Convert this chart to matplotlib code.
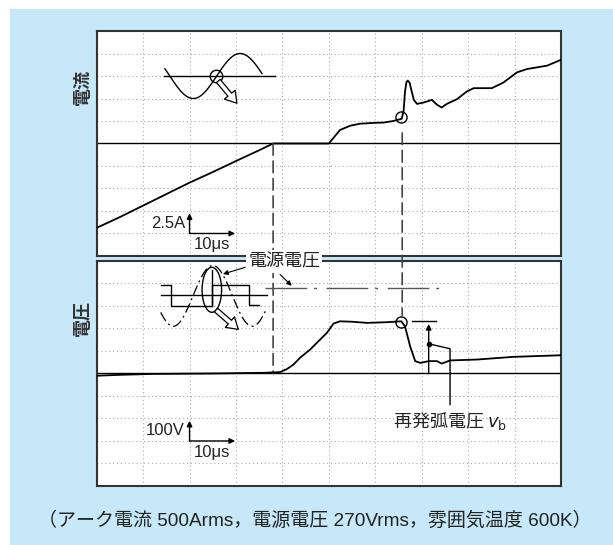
import numpy as np
import matplotlib.pyplot as plt
from matplotlib.patches import Rectangle, Ellipse, ConnectionPatch, FancyArrowPatch

plt.rcParams['font.family'] = ['Liberation Sans', 'Noto Sans CJK JP', 'DejaVu Sans']

# 電流波形 (div)
cur_x = [0, 0.5, 1.0, 1.5, 2.0, 2.5, 3.0, 3.5, 3.8, 5.0, 5.12, 5.24, 5.46, 5.67, 6.0,
         6.18, 6.39, 6.57, 6.61, 6.64, 6.67, 6.7, 6.74, 6.78, 6.83, 6.9, 7.04, 7.22,
         7.33, 7.43, 7.54, 7.76, 7.97, 8.12, 8.51, 8.76, 9.05, 9.27, 9.7, 10]
cur_y = [-3.75, -3.27, -2.76, -2.25, -1.74, -1.27, -0.78, -0.3, 0.0, 0.0, 0.3, 0.6,
         0.79, 0.88, 0.92, 0.93, 1.0, 1.1, 1.45, 2.3, 2.72, 2.8, 2.7, 2.35, 1.94,
         1.76, 1.82, 1.94, 1.72, 1.6, 1.76, 1.97, 2.31, 2.46, 2.46, 2.71, 3.16, 3.31,
         3.46, 3.72]

# 電圧波形 (div)
volt_x = [0, 0.5, 1.2, 2.5, 3.6, 3.95, 4.1, 4.24, 4.38, 4.6, 4.74, 4.96, 5.1, 5.24,
          5.5, 5.82, 6.25, 6.56, 6.64, 6.75, 6.86, 6.97, 7.15, 7.33, 7.43, 7.61,
          8.19, 8.98, 10]
volt_y = [-0.1, -0.06, -0.02, 0.0, 0.03, 0.06, 0.2, 0.4, 0.7, 1.07, 1.36, 1.81, 2.22,
          2.32, 2.3, 2.25, 2.28, 2.32, 2.1, 1.21, 0.55, 0.47, 0.55, 0.55, 0.44, 0.58,
          0.62, 0.74, 0.81]

t_zero = 3.8        # 電流零点
t_restrike = 6.58   # 再発弧点
cur_mark = (6.56, 1.2)
volt_mark = (6.56, 2.3)
vb_level = 2.32
vb_x = 7.15

caption = "（アーク電流 500Arms，電源電圧 270Vrms，雰囲気温度 600K）"

BLUE = "#c6e8f8"
INK = "#222222"
CJK = ['Noto Sans CJK JP', 'DejaVu Sans']

fig = plt.figure(figsize=(6.13, 5.45), dpi=100)
fig.patches.append(Rectangle((10 / 613, 0), 1 - 10 / 613, 536 / 545,
                             transform=fig.transFigure, fc=BLUE, ec="none", zorder=-1))

ax1 = fig.add_axes([0.1577, 0.5303, 0.7575, 0.4128])
ax2 = fig.add_axes([0.1577, 0.1083, 0.7575, 0.4128])


def scope(ax):
    ax.set_xlim(0, 10)
    ax.set_ylim(-5, 5)
    ax.set_xticks([])
    ax.set_yticks([])
    ax.set_facecolor("white")
    for i in range(1, 10):
        ax.axvline(i, color="#aaaaaa", lw=0.8, ls=(0, (1, 2.5)), zorder=1)
    for j in range(-4, 5):
        if j != 0:
            ax.axhline(j, color="#aaaaaa", lw=0.8, ls=(0, (1, 2.5)), zorder=1)
    ax.axhline(0, color="k", lw=1.0, zorder=2)
    for s in ax.spines.values():
        s.set_color("#333333")
        s.set_linewidth(1.5)


def hollow_arrow(ax, start, end):
    ax.add_patch(FancyArrowPatch(start, end,
                                 arrowstyle="simple,head_length=0.8,head_width=1.0,tail_width=0.35",
                                 mutation_scale=10, fc="white", ec="k", lw=0.9,
                                 shrinkA=0, shrinkB=0, zorder=4))


def scale_mark(ax, label, y0):
    ax.annotate("", xy=(2.0, y0 + 0.9), xytext=(2.0, y0),
                arrowprops=dict(arrowstyle="-|>", color="k", lw=1, shrinkA=0, shrinkB=0,
                                mutation_scale=8))
    ax.annotate("", xy=(2.98, y0), xytext=(2.0, y0),
                arrowprops=dict(arrowstyle="-|>", color="k", lw=1, shrinkA=0, shrinkB=0,
                                mutation_scale=8))
    ax.text(1.9, y0 + 0.45, label, ha="right", va="center", fontsize=12, color=INK)
    ax.text(2.08, y0 - 0.5, "10μs", ha="left", va="center", fontsize=12, color=INK)


scope(ax1)
scope(ax2)

# 電流
ax1.plot(cur_x, cur_y, color="k", lw=1.3, zorder=3)
ax1.plot(*cur_mark, "o", ms=8, mfc="none", mec="k", mew=1, zorder=4)
scale_mark(ax1, "2.5A", -4.0)

# 電流零点の模式図
xs = np.linspace(1.47, 3.56, 80)
ax1.plot(xs, 3.0 - np.cos(np.pi * (xs - 2.08) / 1.01), color="k", lw=1.0, zorder=3)
ax1.plot([1.45, 3.84], [3.0, 3.0], color="k", lw=1.0, zorder=3)
ax1.plot(2.56, 3.0, "o", ms=9, mfc="none", mec="k", mew=1, zorder=4)
hollow_arrow(ax1, (2.62, 2.78), (3.02, 1.79))

# 電圧
ax2.plot(volt_x, volt_y, color="k", lw=1.3, zorder=3)
ax2.plot(*volt_mark, "o", ms=8, mfc="none", mec="k", mew=1, zorder=4)
scale_mark(ax2, "100V", -3.0)

# 電源電圧の模式図
ax2.plot([1.38, 3.66], [3.5, 3.5], color="k", lw=1.0, zorder=3)
ax2.plot([1.38, 1.61, 1.61, 2.48, 2.48, 3.27, 3.27, 3.5],
         [3.95, 3.95, 3.0, 3.0, 3.95, 3.95, 3.05, 3.05], color="k", lw=1.0, zorder=3)
ax2.plot([2.48, 2.48], [3.0, 4.6], color="k", lw=1.0, zorder=3)
xs = np.linspace(1.38, 3.66, 120)
ax2.plot(xs, 3.45 - 1.35 * np.cos(np.pi * (xs - 1.65) / 0.85), color="k", lw=0.9,
         ls=(0, (8, 3, 1.5, 3)), zorder=3)
ax2.add_patch(Ellipse((2.48, 3.72), 0.42, 2.0, fc="none", ec="k", lw=1.0, zorder=4))
hollow_arrow(ax2, (2.57, 2.82), (3.05, 1.96))

# 電源電圧ラベル
ax2.plot([3.63, 7.51], [3.81, 3.81], color="#555555", lw=1.0, ls=(0, (30, 5, 2, 7)), zorder=3)
ax2.text(4.04, 4.98, "電源電圧", ha="center", va="center", fontsize=13, color=INK,
         family=CJK, bbox=dict(fc="white", ec="none", pad=1.5), zorder=6, clip_on=False)
ax2.annotate("", xy=(2.72, 4.42), xytext=(3.2, 4.72),
             arrowprops=dict(arrowstyle="-|>", color="k", lw=0.8, shrinkA=0, shrinkB=0,
                             mutation_scale=7), zorder=5)
ax2.annotate("", xy=(4.2, 3.9), xytext=(3.95, 4.4),
             arrowprops=dict(arrowstyle="-|>", color="k", lw=0.8, shrinkA=0, shrinkB=0,
                             mutation_scale=7), zorder=5)

# 再発弧電圧
ax2.plot([6.79, 7.3], [vb_level, vb_level], color="k", lw=1.0, zorder=3)
ax2.annotate("", xy=(vb_x, vb_level - 0.12), xytext=(vb_x, 0),
             arrowprops=dict(arrowstyle="-|>", color="k", lw=1.0, shrinkA=0, shrinkB=0,
                             mutation_scale=8), zorder=4)
ax2.plot(vb_x, 1.32, "o", ms=3, color="k", zorder=4)
ax2.plot([vb_x, 7.61, 7.61], [1.32, 1.1, -1.38], color="k", lw=1.0, zorder=4)
ax2.text(7.61, -2.12, "再発弧電圧 $v_{\\mathrm{b}}$", ha="center", va="center",
         fontsize=13, color=INK, family=CJK)

# 上下の波形をつなぐ破線
for (xa, ya), (xb, yb) in [((t_zero, 0), (t_zero, 0)),
                           ((t_restrike, 0.47), (t_restrike, 2.58))]:
    con = ConnectionPatch(xyA=(xa, ya), coordsA=ax1.transData,
                          xyB=(xb, yb), coordsB=ax2.transData,
                          color="#444444", lw=1.2, ls=(0, (7, 3.5)), zorder=2.6)
    ax2.add_artist(con)
    con.set_clip_on(False)

fig.text(0.135, 0.840, "電流", rotation=90, ha="center", va="center", fontsize=13,
         fontweight="bold", color="#333333", family=CJK)
fig.text(0.135, 0.417, "電圧", rotation=90, ha="center", va="center", fontsize=13,
         fontweight="bold", color="#333333", family=CJK)
fig.text(0.513, 0.044, caption, ha="center", va="center", fontsize=13.7, color=INK)

fig.savefig("out.png", dpi=100)
